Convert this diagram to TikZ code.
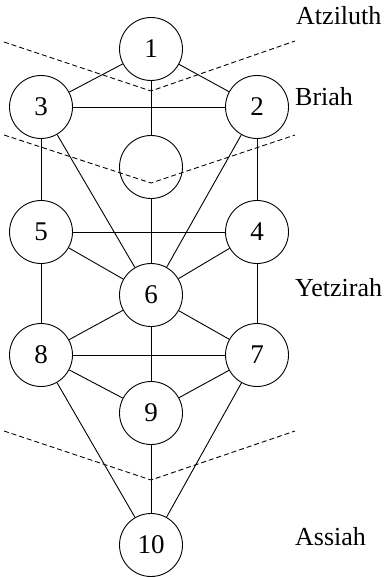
\documentclass[tikz,border=0pt]{standalone}
\usepackage{fontspec}
\setmainfont{Liberation Serif}
\newfontfamily\timesfont{Liberation Serif}
\begin{document}
\begin{tikzpicture}[x=1pt,y=-1pt,
  sef/.style={circle,draw,line width=0.9pt,minimum size=63pt,inner sep=0pt,
    font=\timesfont\fontsize{27}{30}\selectfont},
  world/.style={anchor=base west,inner sep=0pt,font=\timesfont\fontsize{26}{30}\selectfont},
  path/.style={line width=0.9pt},
  divider/.style={line width=0.9pt,dash pattern=on 5pt off 3pt}]
\useasboundingbox (0,0) rectangle (388,577);
\node[sef] (n1) at (151,49) {1};
\node[sef] (n3) at (41,107) {3};
\node[sef] (n2) at (257,107) {2};
\node[sef] (nd) at (151,167) {};
\node[sef] (n5) at (41,232) {5};
\node[sef] (n4) at (257,232) {4};
\node[sef] (n6) at (151,295) {6};
\node[sef] (n8) at (41,355) {8};
\node[sef] (n7) at (257,355) {7};
\node[sef] (n9) at (151,413) {9};
\node[sef] (n10) at (151,545) {10};
\foreach \a/\b in {n1/n3,n1/n2,n1/nd,n3/n2,n3/n5,n2/n4,n3/n6,n2/n6,nd/n6,
  n5/n4,n5/n6,n4/n6,n5/n8,n4/n7,n6/n8,n6/n7,n6/n9,n8/n7,n8/n9,n7/n9,
  n8/n10,n7/n10,n9/n10}
  \draw[path] (\a) -- (\b);
\coordinate (a1) at (4,42); \coordinate (a2) at (151,91); \coordinate (a3) at (295,41);
\coordinate (b1) at (4,135); \coordinate (b2) at (151,183); \coordinate (b3) at (295,135);
\coordinate (c1) at (4,431); \coordinate (c2) at (151,480); \coordinate (c3) at (295,431);
\draw[divider] (a1) -- (a2) -- (a3);
\draw[divider] (b1) -- (b2) -- (b3);
\draw[divider] (c1) -- (c2) -- (c3);
\node[world] (w1) at (296,25) {Atziluth};
\node[world] (w2) at (295,106) {Briah};
\node[world] (w3) at (295,296) {Yetzirah};
\node[world] (w4) at (295,545) {Assiah};
\end{tikzpicture}
\end{document}
